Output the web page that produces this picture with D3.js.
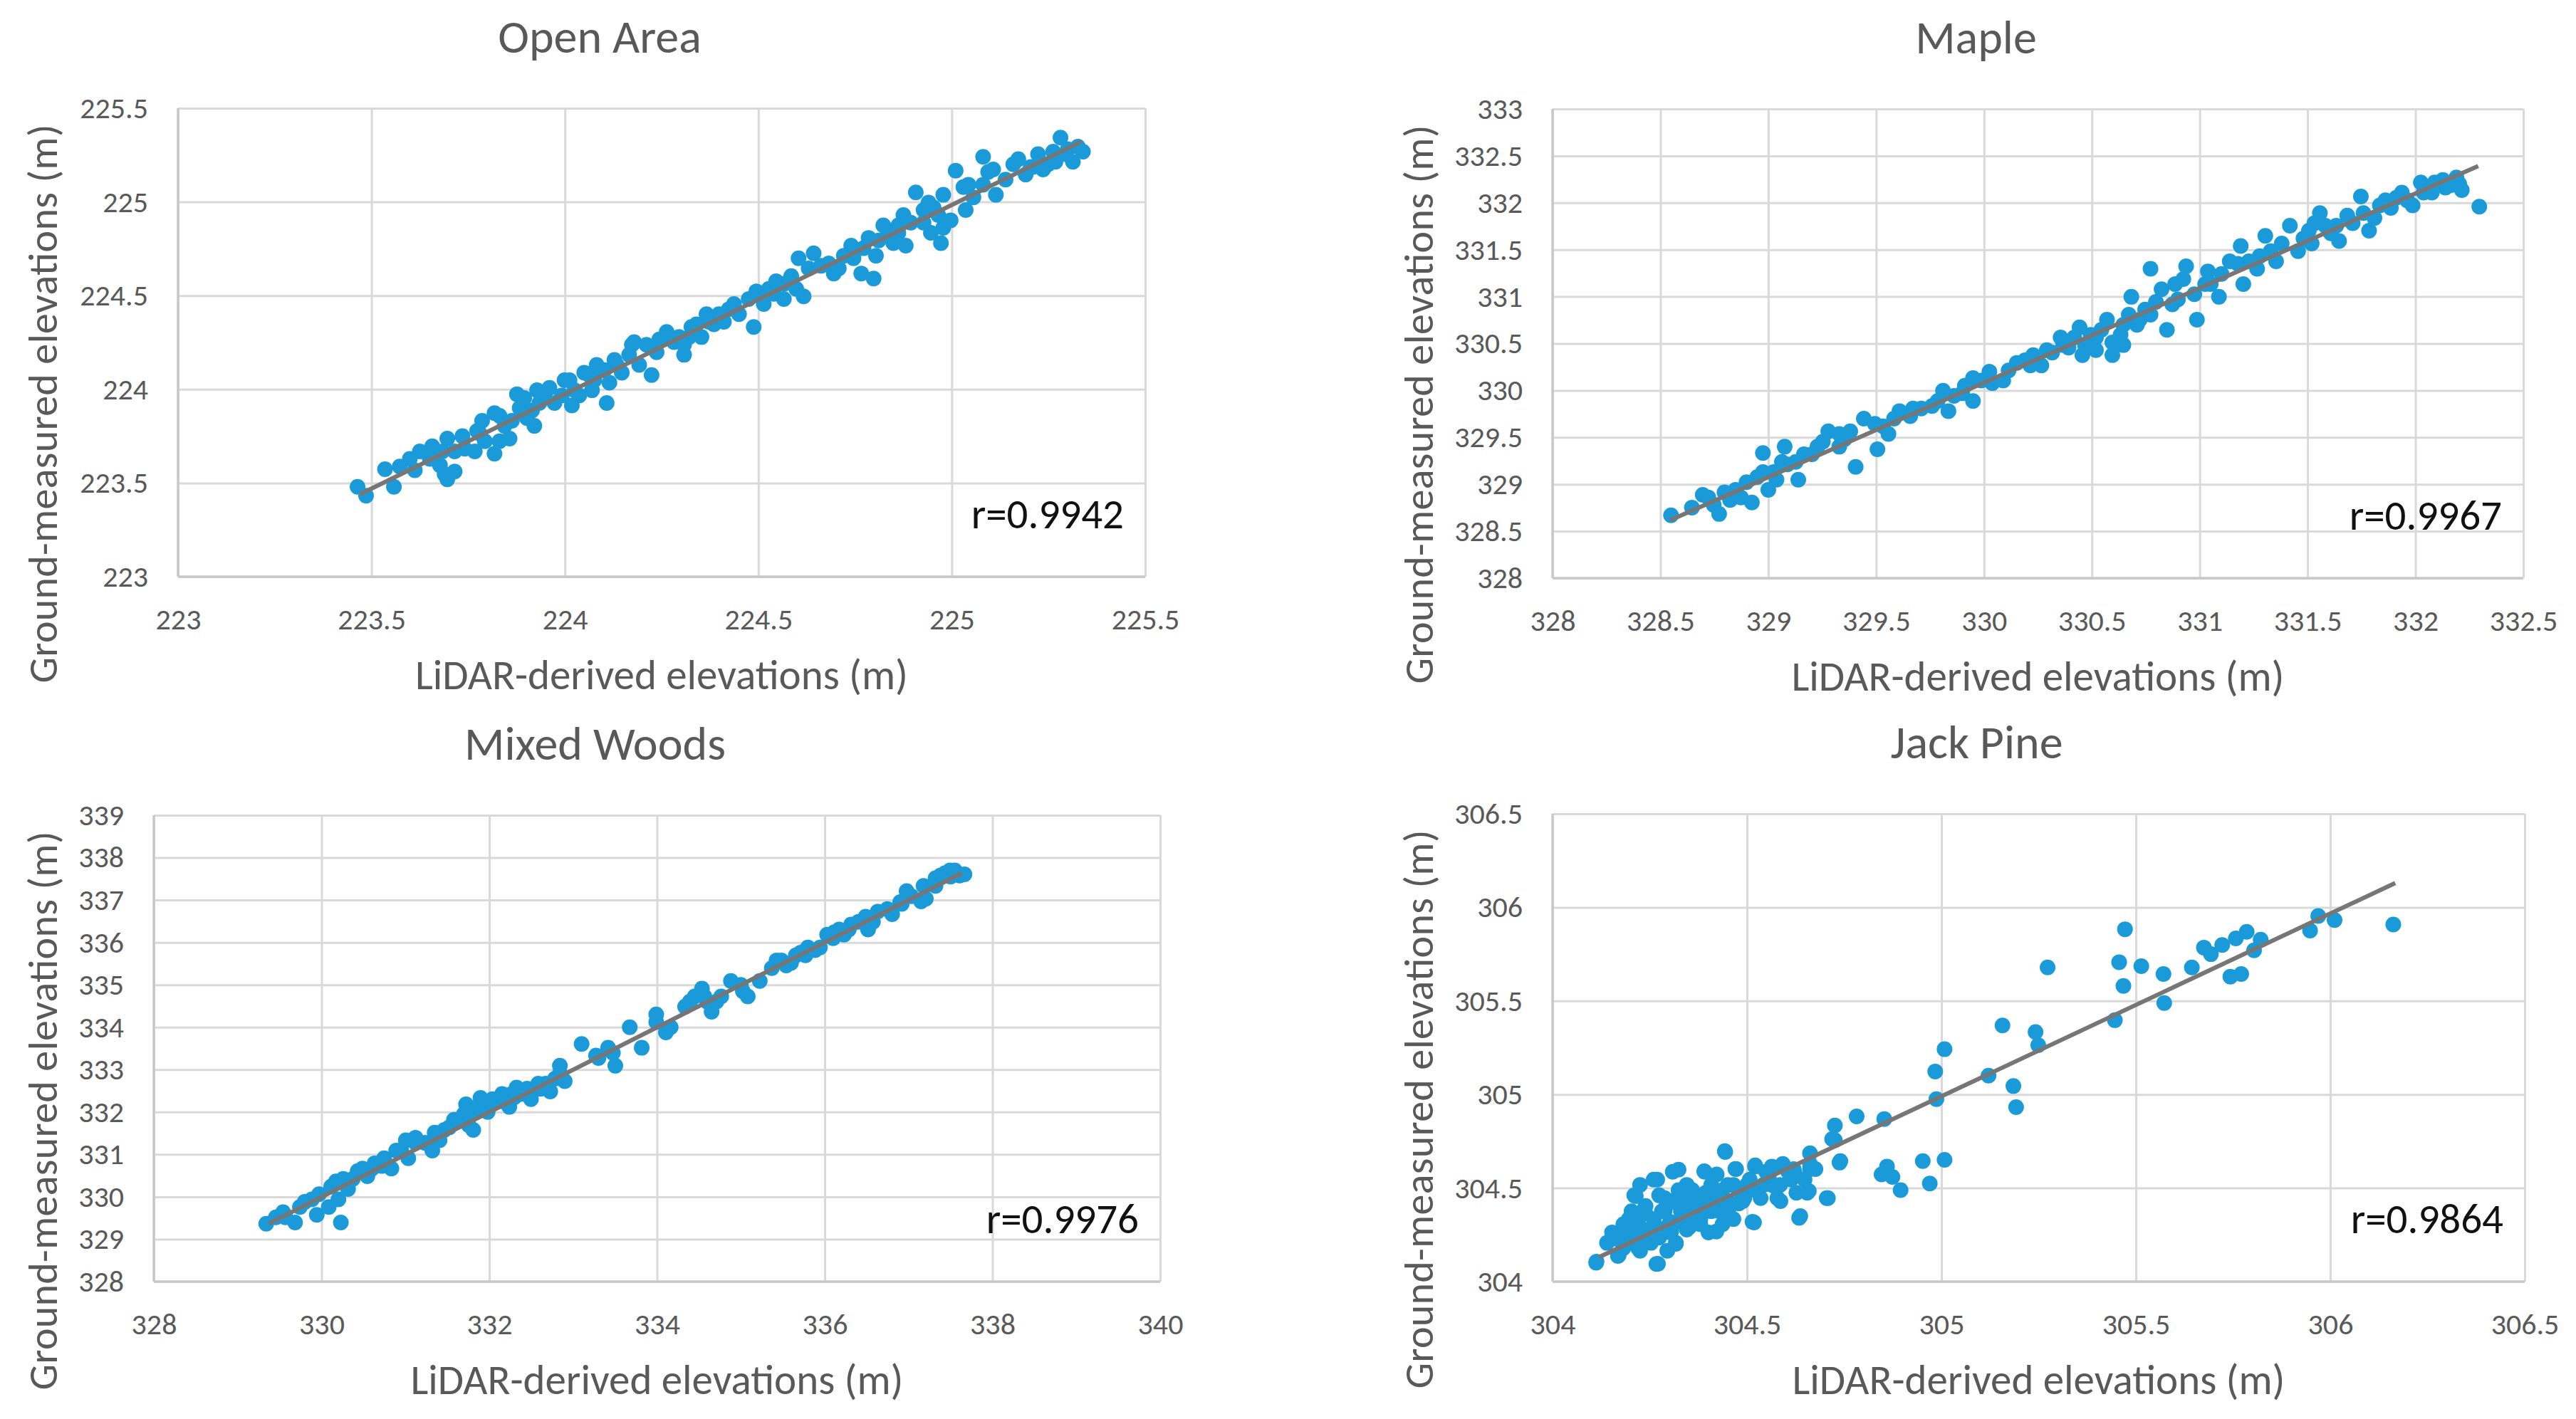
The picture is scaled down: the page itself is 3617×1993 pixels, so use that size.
<!DOCTYPE html>
<html lang="en">
<head>
    <meta charset="UTF-8">
    <script src="https://d3js.org/d3.v7.min.js"></script>
    <style>
        body { margin: 0; background: #fff; }
        svg text { font-family: Carlito, "Open Sans", sans-serif; }
    </style>
</head>
<body>
<svg width="3617" height="1993"></svg>
<script>
// ---- data: [LiDAR, ground] ----
var openAreaPoints = [
    [223.464,223.480],[223.486,223.432],[223.535,223.574],[223.558,223.480],[223.573,223.588],[223.599,223.629],
    [223.612,223.568],[223.625,223.669],[223.657,223.696],[223.677,223.595],[223.689,223.547],[223.696,223.737],
    [223.715,223.561],[223.696,223.520],[223.735,223.750],[223.741,223.683],[223.767,223.669],[223.773,223.778],
    [223.786,223.832],[223.793,223.723],[223.818,223.873],[223.818,223.656],[223.844,223.805],[223.857,223.737],
    [223.876,223.974],[223.883,223.900],[223.902,223.846],[223.915,223.887],[223.921,223.805],[223.928,223.995],
    [223.934,223.927],[223.947,223.967],[223.960,224.008],[223.973,223.927],[223.992,223.967],[224.012,224.049],
    [224.018,223.914],[224.037,223.967],[224.050,224.089],[224.063,224.076],[224.070,223.995],[224.082,224.130],
    [224.108,223.927],[224.115,224.035],[224.128,224.157],[224.134,224.130],[224.147,224.089],[224.173,224.238],
    [224.179,224.252],[224.192,224.130],[224.211,224.238],[224.224,224.076],[224.237,224.198],[224.263,224.306],
    [224.282,224.252],[224.295,224.279],[224.308,224.184],[224.327,224.333],[224.340,224.347],[224.353,224.279],
    [224.366,224.401],[224.385,224.347],[224.398,224.401],[224.411,224.360],[224.437,224.455],[224.450,224.401],
    [224.488,224.333],[224.495,224.523],[224.514,224.455],[224.540,224.509],[224.546,224.577],[224.566,224.482],
    [224.585,224.604],[224.604,224.699],[224.617,224.496],[224.643,224.726],[224.662,224.659],[224.682,224.672],
    [224.695,224.618],[224.721,224.713],[224.740,224.767],[224.766,224.618],[224.772,224.753],[224.785,224.808],
    [224.798,224.591],[224.804,224.713],[224.823,224.875],[224.849,224.780],[224.862,224.835],[224.875,224.930],
    [224.881,224.767],[224.907,225.051],[224.927,224.957],[224.940,224.997],[224.946,224.835],[224.965,224.930],
    [224.972,224.780],[224.978,225.038],[224.997,224.902],[225.010,225.167],[225.036,224.957],[225.043,225.092],
    [225.056,225.024],[225.081,225.241],[225.094,225.160],[225.114,225.038],[225.139,225.119],[225.172,225.228],
    [225.191,225.146],[225.204,225.187],[225.223,225.255],[225.236,225.173],[225.249,225.201],[225.268,225.214],
    [225.281,225.343],[225.300,225.282],[225.313,225.214],[225.339,225.268],
    [223.780,223.764],[223.831,223.723],[223.863,223.832],[223.895,223.954],[223.831,223.859],[223.683,223.669],
    [223.651,223.629],[223.715,223.669],[223.999,224.049],[224.025,223.995],[224.076,224.049],[224.102,224.103],
    [224.166,224.184],[224.244,224.266],[224.308,224.238],[224.321,224.279],[224.372,224.360],[224.424,224.428],
    [224.475,224.482],[224.527,224.536],[224.566,224.563],[224.598,224.536],[224.630,224.645],[224.708,224.645],
    [224.746,224.699],[224.811,224.794],[224.836,224.835],[224.862,224.875],[224.894,224.889],[224.927,224.889],
    [224.953,224.970],[224.978,224.862],[225.030,225.079],[225.081,225.092],[225.107,225.173],[225.159,225.201],
    [225.210,225.187],[225.262,225.268],[225.294,225.255],[225.326,225.295]
];
var maplePoints = [
    [328.549,328.670],[328.696,328.887],[328.722,328.860],[328.747,328.779],[328.772,328.684],[328.797,328.914],
    [328.848,328.941],[328.873,328.860],[328.899,329.022],[328.924,328.806],[328.975,329.333],[328.975,329.131],
    [329.000,328.941],[329.025,329.131],[329.038,329.049],[329.076,329.401],[329.089,329.212],[329.127,329.239],
    [329.139,329.049],[329.165,329.320],[329.228,329.401],[329.278,329.564],[329.329,329.401],[329.329,329.537],
    [329.380,329.564],[329.405,329.185],[329.443,329.699],[329.494,329.645],[329.506,329.374],[329.557,329.537],
    [329.608,329.780],[329.658,329.726],[329.671,329.807],[329.759,329.834],[329.810,329.997],[329.835,329.780],
    [329.861,329.943],[329.899,329.970],[329.949,330.132],[329.949,329.888],[330.025,330.200],[330.038,330.078],
    [330.089,330.105],[330.152,330.294],[330.215,330.267],[330.228,330.376],[330.266,330.267],[330.316,330.403],
    [330.355,330.565],[330.392,330.457],[330.443,330.673],[330.456,330.376],[330.494,330.592],[330.519,330.565],
    [330.570,330.754],[330.595,330.376],[330.633,330.592],[330.646,330.700],[330.683,330.998],[330.709,330.700],
    [330.722,330.754],[330.747,330.863],[330.772,331.296],[330.797,330.944],[330.848,330.646],[330.873,330.917],
    [330.886,331.133],[330.937,331.323],[330.975,331.025],[330.987,330.754],[331.038,331.269],[331.051,331.133],
    [331.089,330.998],[331.139,331.377],[331.190,331.539],[331.202,331.133],[331.266,331.296],[331.278,331.431],
    [331.304,331.647],[331.354,331.377],[331.418,331.756],[331.456,331.485],[331.481,331.620],[331.519,331.566],
    [331.557,331.891],[331.582,331.756],[331.608,331.675],[331.646,331.593],[331.684,331.864],[331.709,331.783],
    [331.747,332.067],[331.785,331.702],[331.835,331.972],[331.861,332.026],[331.886,331.945],[331.937,332.108],
    [331.987,331.972],[332.025,332.216],[332.076,332.108],[332.089,332.216],[332.127,332.243],[332.165,332.189],
    [332.203,332.202],[332.215,332.135],[332.296,331.959],
    [328.646,328.752],[328.823,328.833],[328.949,329.077],[329.063,329.239],[329.203,329.320],[329.253,329.455],
    [329.354,329.482],[329.532,329.618],[329.583,329.699],[329.709,329.807],[329.785,329.888],[329.911,330.051],
    [329.987,330.105],[330.114,330.213],[330.190,330.321],[330.291,330.430],[330.367,330.484],[330.418,330.565],
    [330.468,330.484],[330.519,330.430],[330.544,330.646],[330.595,330.511],[330.646,330.484],[330.671,330.808],
    [330.772,330.808],[330.823,331.079],[330.899,330.971],[330.924,331.187],[331.025,331.133],[331.101,331.242],
    [331.177,331.350],[331.228,331.377],[331.329,331.485],[331.380,331.566],[331.506,331.702],[331.532,331.783],
    [331.633,331.756],[331.759,331.891],[331.810,331.837],[331.911,332.053],[331.962,332.026],[332.038,332.108],
    [332.139,332.162],[332.190,332.270]
];
var mixedWoodsPoints = [
    [329.340,329.364],[329.455,329.515],[329.541,329.636],[329.684,329.394],[329.799,329.879],[329.885,329.939],
    [329.943,329.576],[330.086,329.758],[330.172,330.364],[330.201,329.939],[330.230,329.394],[330.316,330.182],
    [330.373,330.424],[330.431,330.606],[330.546,330.485],[330.632,330.788],[330.746,330.909],[330.833,330.667],
    [330.890,331.091],[330.950,331.100],[331.005,331.333],[331.034,330.909],[331.120,331.394],[331.235,331.273],
    [331.321,331.091],[331.400,331.350],[331.464,331.576],[331.579,331.818],[331.636,331.818],[331.700,331.950],
    [331.723,332.182],[331.809,331.576],[331.850,332.100],[331.895,332.333],[331.981,332.000],[332.038,332.303],
    [332.100,332.250],[332.153,332.424],[332.239,332.121],[332.300,332.350],[332.325,332.576],[332.383,332.424],
    [332.450,332.550],[332.497,332.303],[332.584,332.667],[332.670,332.667],[332.727,332.485],[332.842,333.091],
    [332.900,332.727],[333.101,333.606],[333.273,333.333],[333.417,333.515],[333.503,333.091],[333.675,334.000],
    [333.818,333.515],[333.991,334.303],[334.106,333.879],[334.335,334.485],[334.450,334.727],[334.536,334.909],
    [334.600,334.600],[334.651,334.364],[334.766,334.727],[334.881,335.091],[335.000,335.000],[335.082,334.727],
    [335.225,335.091],[335.426,335.576],[335.541,335.455],[335.656,335.697],[335.771,335.697],[335.799,335.879],
    [335.943,335.879],[336.029,336.182],[336.100,336.100],[336.172,336.303],[336.230,336.182],[336.316,336.424],
    [336.488,336.606],[336.517,336.303],[336.632,336.727],[336.804,336.667],[336.900,336.950],[336.976,337.212],
    [337.149,336.970],[337.178,337.333],[337.321,337.515],[337.321,337.333],[337.436,337.636],[337.500,337.550],
    [337.551,337.697],[337.666,337.606],
    [329.569,329.515],[329.742,329.758],[329.971,330.061],[330.115,330.242],[330.258,330.424],[330.488,330.667],
    [330.603,330.667],[330.718,330.727],[330.947,331.091],[331.120,331.273],[331.349,331.515],[331.407,331.333],
    [331.522,331.636],[331.694,331.939],[331.751,331.697],[331.809,332.000],[331.924,332.121],[332.067,332.242],
    [332.182,332.242],[332.268,332.424],[332.440,332.485],[332.613,332.545],[332.785,332.788],[332.842,332.909],
    [333.302,333.273],[333.474,333.394],[333.991,334.121],[334.163,334.000],[334.393,334.606],[334.565,334.727],
    [334.709,334.606],[335.024,334.848],[335.369,335.394],[335.483,335.576],[335.598,335.515],[335.713,335.758],
    [335.885,335.818],[336.115,336.242],[336.287,336.303],[336.402,336.485],[336.575,336.485],[336.747,336.788],
    [336.919,336.909],[337.034,337.091],[337.206,337.030],[337.379,337.576],[337.494,337.697],[337.609,337.576]
];
var jackPinePoints = [
    [304.112,304.101],[304.168,304.137],[304.175,304.249],[304.182,304.179],[304.189,304.207],[304.196,304.334],
    [304.210,304.461],[304.210,304.235],[304.218,304.306],[304.225,304.165],[304.232,304.376],[304.239,304.277],
    [304.253,304.207],[304.260,304.545],[304.260,304.334],[304.267,304.094],[304.274,304.235],[304.288,304.376],
    [304.288,304.446],[304.295,304.165],[304.302,304.320],[304.309,304.587],[304.317,304.207],[304.330,304.376],
    [304.338,304.446],[304.345,304.517],[304.345,304.278],[304.352,304.292],[304.366,304.376],[304.373,304.446],
    [304.380,304.334],[304.391,304.587],[304.401,304.263],[304.408,304.517],[304.415,304.446],[304.429,304.376],
    [304.437,304.489],[304.444,304.693],[304.451,304.517],[304.465,304.334],[304.472,304.601],[304.479,304.418],
    [304.493,304.446],[304.500,304.517],[304.514,304.320],[304.521,304.615],[304.535,304.446],[304.542,304.517],
    [304.556,304.552],[304.564,304.615],[304.578,304.446],[304.585,304.517],[304.592,304.629],[304.613,304.545],
    [304.627,304.475],[304.634,304.341],[304.648,304.545],[304.655,304.475],[304.662,304.601],[304.662,304.686],
    [304.705,304.446],[304.726,304.834],[304.726,304.755],[304.740,304.644],[304.782,304.883],[304.846,304.573],
    [304.853,304.869],[304.860,304.615],[304.874,304.559],[304.895,304.489],[304.952,304.644],[304.970,304.524],
    [304.984,305.123],[304.987,304.975],[305.008,304.651],[305.008,305.242],[305.121,305.101],[305.157,305.369],
    [305.185,305.045],[305.192,304.932],[305.242,305.334],[305.249,305.263],[305.273,305.679],[305.446,305.397],
    [305.457,305.707],[305.468,305.580],[305.472,305.883],[305.514,305.686],[305.571,305.644],[305.573,305.489],
    [305.644,305.679],[305.675,305.785],[305.693,305.750],[305.722,305.799],[305.743,305.630],[305.757,305.834],
    [305.771,305.644],[305.785,305.869],[305.804,305.770],[305.821,305.827],[305.948,305.876],[305.969,305.954],
    [306.011,305.932],[306.162,305.908],
    [304.140,304.207],[304.153,304.263],[304.182,304.306],[304.196,304.249],[304.203,304.376],[304.225,304.348],
    [304.239,304.404],[304.246,304.235],[304.267,304.292],[304.274,304.461],[304.281,304.376],[304.302,304.263],
    [304.309,304.432],[304.324,304.489],[304.330,304.320],[304.352,304.390],[304.359,304.489],[304.380,304.404],
    [304.394,304.475],[304.408,304.376],[304.422,304.573],[304.429,304.446],[304.458,304.418],[304.465,304.517],
    [304.479,304.489],[304.507,304.545],[304.521,304.489],[304.549,304.587],[304.564,304.517],[304.606,304.587],
    [304.620,304.601],[304.662,304.629],[304.676,304.601],[304.225,304.517],[304.380,304.306],[304.437,304.306],
    [304.214,304.457],[304.269,304.545],[304.324,304.598],[304.390,304.590],[304.443,304.697],[304.470,304.602],
    [304.521,304.621],[304.567,304.609],[304.659,304.484],[304.708,304.446],[304.637,304.350],[304.518,304.316],
    [304.421,304.267],[304.271,304.095],[304.113,304.107],[304.170,304.141],[304.220,304.179],[304.165,304.228],
    [304.189,304.305],[304.238,304.369],[304.293,304.407],[304.342,304.457],[304.379,304.354],[304.452,304.381],
    [304.489,304.430],[304.573,304.506],[304.586,304.430],[304.622,304.583],[304.738,304.636],[304.719,304.762],
    [304.250,304.255],[304.305,304.267],[304.354,304.316],[304.403,304.430],[304.317,304.202]
];

// trendline end points [x0, x1], [y0, y1]
var openAreaTrendX = [223.47, 225.335], openAreaTrendY = [223.44, 225.322];
var mapleTrendX = [328.544, 332.291], mapleTrendY = [328.616, 332.392];
var mixedWoodsTrendX = [329.368, 337.637], mixedWoodsTrendY = [329.364, 337.636];
var jackPineTrendX = [304.119, 306.167], jackPineTrendY = [304.13, 306.13];

// tick values
var openAreaTicks = [223, 223.5, 224, 224.5, 225, 225.5];
var mapleXTicks = [328, 328.5, 329, 329.5, 330, 330.5, 331, 331.5, 332, 332.5];
var mapleYTicks = [328, 328.5, 329, 329.5, 330, 330.5, 331, 331.5, 332, 332.5, 333];
var mixedWoodsXTicks = [328, 330, 332, 334, 336, 338, 340];
var mixedWoodsYTicks = [328, 329, 330, 331, 332, 333, 334, 335, 336, 337, 338, 339];
var jackPineTicks = [304, 304.5, 305, 305.5, 306, 306.5];

var titles = ["Open Area", "Maple", "Mixed Woods", "Jack Pine"];
var rLabels = ["r=0.9942", "r=0.9967", "r=0.9976", "r=0.9864"];

var svg = d3.select("svg");
var grey = "#595959";

var panels = [
    {title: titles[0], pts: openAreaPoints, tx: openAreaTrendX, ty: openAreaTrendY, xt: openAreaTicks, yt: openAreaTicks,
     r: rLabels[0], left: 250, right: 1608, top: 152, bottom: 810, ytx: 80},
    {title: titles[1], pts: maplePoints, tx: mapleTrendX, ty: mapleTrendY, xt: mapleXTicks, yt: mapleYTicks,
     r: rLabels[1], left: 2180, right: 3543, top: 153, bottom: 812, ytx: 2012},
    {title: titles[2], pts: mixedWoodsPoints, tx: mixedWoodsTrendX, ty: mixedWoodsTrendY, xt: mixedWoodsXTicks, yt: mixedWoodsYTicks,
     r: rLabels[2], left: 216, right: 1629, top: 1145, bottom: 1800, ytx: 80},
    {title: titles[3], pts: jackPinePoints, tx: jackPineTrendX, ty: jackPineTrendY, xt: jackPineTicks, yt: jackPineTicks,
     r: rLabels[3], left: 2180, right: 3545, top: 1143, bottom: 1800, ytx: 2012}
];

var fmt = function(d) { return String(d); };

panels.forEach(function(p) {
    var x = d3.scaleLinear().domain(d3.extent(p.xt)).range([p.left, p.right]);
    var y = d3.scaleLinear().domain(d3.extent(p.yt)).range([p.bottom, p.top]);
    var g = svg.append("g");
    var w = p.right - p.left, h = p.bottom - p.top;

    // gridlines
    g.append("g")
        .attr("transform", "translate(0," + p.bottom + ")")
        .call(d3.axisBottom(x).tickValues(p.xt).tickSize(-h).tickFormat(""))
        .call(function(a) { a.select(".domain").remove(); })
        .selectAll("line").attr("stroke", "#d9d9d9").attr("stroke-width", 3);
    g.append("g")
        .attr("transform", "translate(" + p.left + ",0)")
        .call(d3.axisLeft(y).tickValues(p.yt).tickSize(-w).tickFormat(""))
        .call(function(a) { a.select(".domain").remove(); })
        .selectAll("line").attr("stroke", "#d9d9d9").attr("stroke-width", 3);

    // axis lines
    g.append("line").attr("x1", p.left).attr("x2", p.left).attr("y1", p.top).attr("y2", p.bottom)
        .attr("stroke", "#c8c8c8").attr("stroke-width", 3.5);
    g.append("line").attr("x1", p.left).attr("x2", p.right).attr("y1", p.bottom).attr("y2", p.bottom)
        .attr("stroke", "#c8c8c8").attr("stroke-width", 3.5);

    // tick labels
    var xa = g.append("g")
        .attr("transform", "translate(0," + p.bottom + ")")
        .call(d3.axisBottom(x).tickValues(p.xt).tickSize(0).tickPadding(44).tickFormat(fmt));
    var ya = g.append("g")
        .attr("transform", "translate(" + p.left + ",0)")
        .call(d3.axisLeft(y).tickValues(p.yt).tickSize(0).tickPadding(42).tickFormat(fmt));
    [xa, ya].forEach(function(a) {
        a.select(".domain").remove();
        a.selectAll("text").attr("font-size", 42).attr("fill", grey)
            .style("font-family", 'Carlito, "Open Sans", sans-serif');
    });

    // points
    g.selectAll(".dot")
        .data(p.pts)
        .enter()
        .append("circle")
        .attr("class", "dot")
        .attr("cx", function(d) { return x(d[0]); })
        .attr("cy", function(d) { return y(d[1]); })
        .attr("r", 11)
        .attr("fill", "#1a9ad9");

    // trendline
    var line = d3.line().x(function(d) { return x(d[0]); }).y(function(d) { return y(d[1]); });
    g.append("path")
        .datum([[p.tx[0], p.ty[0]], [p.tx[1], p.ty[1]]])
        .attr("d", line)
        .attr("stroke", "#767676")
        .attr("stroke-width", 6)
        .attr("fill", "none");

    // texts
    g.append("text")
        .attr("x", (p.left + p.right) / 2 - 87)
        .attr("y", p.top - 78)
        .attr("text-anchor", "middle")
        .attr("font-size", 66)
        .attr("fill", grey)
        .text(p.title);

    g.append("text")
        .attr("x", (p.left + p.right) / 2)
        .attr("y", p.bottom + 158)
        .attr("text-anchor", "middle")
        .attr("font-size", 59)
        .attr("fill", grey)
        .text("LiDAR-derived elevations (m)");

    g.append("text")
        .attr("transform", "translate(" + p.ytx + "," + (p.top + 415) + ") rotate(-90)")
        .attr("text-anchor", "middle")
        .attr("font-size", 58)
        .attr("fill", grey)
        .attr("textLength", 785)
        .attr("lengthAdjust", "spacing")
        .text("Ground-measured elevations (m)");

    g.append("text")
        .attr("x", p.right - 30)
        .attr("y", p.bottom - 68)
        .attr("text-anchor", "end")
        .attr("font-size", 59)
        .attr("fill", "#111")
        .text(p.r);
});
</script>
</body>
</html>
